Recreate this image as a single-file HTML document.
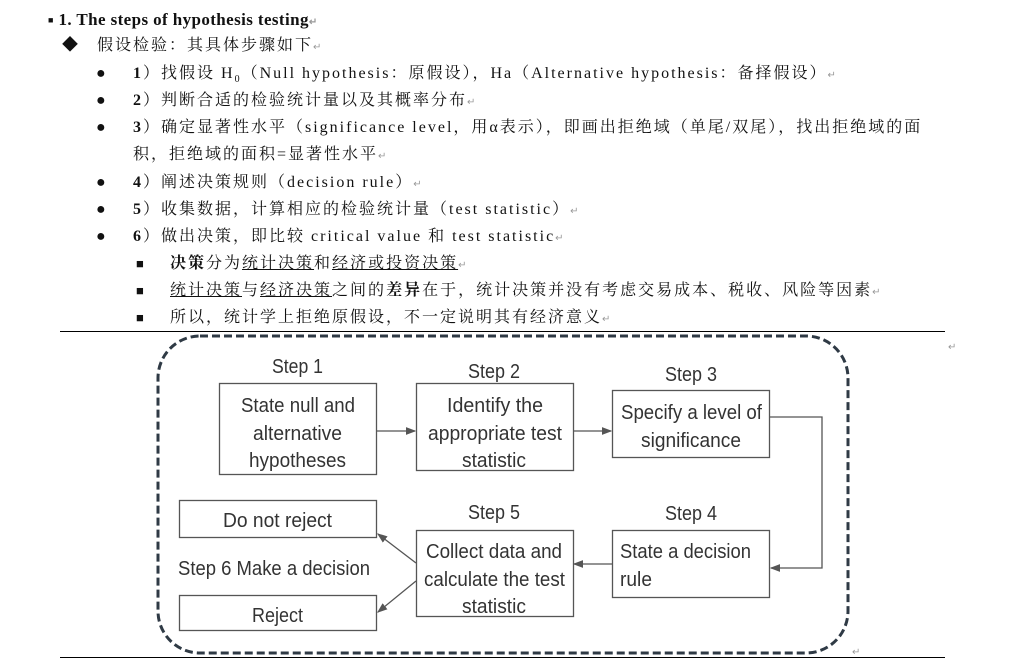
<!DOCTYPE html>
<html><head><meta charset="utf-8"><style>
body{margin:0;width:1027px;height:663px;background:#fff;position:relative;overflow:hidden;font-family:"Liberation Serif","Noto Serif CJK SC",serif;color:#111}
.l{position:absolute;font-size:16px;white-space:nowrap;line-height:18px;letter-spacing:2px}
.m{color:#999;font-size:10px}
u{text-decoration:underline}
</style></head><body>
<div class="l" style="left:48px;top:11px;font-weight:bold;font-size:17px;letter-spacing:0.4px"><span style="font-size:9px;vertical-align:2px">■</span> 1. The steps of hypothesis testing<span class="m">↵</span></div>
<div class="l" style="left:62px;top:37px">◆</div>
<div class="l" style="left:97px;top:37px">假设检验：其具体步骤如下<span class="m">↵</span></div>
<div class="l" style="left:96px;top:65px">●</div>
<div class="l" style="left:133px;top:65px"><b>1</b>）找假设 H<sub style="font-size:10px">0</sub>（Null hypothesis：原假设），Ha（Alternative hypothesis：备择假设）<span class="m">↵</span></div>
<div class="l" style="left:96px;top:92px">●</div>
<div class="l" style="left:133px;top:92px"><b>2</b>）判断合适的检验统计量以及其概率分布<span class="m">↵</span></div>
<div class="l" style="left:96px;top:119px">●</div>
<div class="l" style="left:133px;top:119px"><b>3</b>）确定显著性水平（significance level，用α表示），即画出拒绝域（单尾/双尾），找出拒绝域的面</div>
<div class="l" style="left:133px;top:146px">积，拒绝域的面积=显著性水平<span class="m">↵</span></div>
<div class="l" style="left:96px;top:174px">●</div>
<div class="l" style="left:133px;top:174px"><b>4</b>）阐述决策规则（decision rule）<span class="m">↵</span></div>
<div class="l" style="left:96px;top:201px">●</div>
<div class="l" style="left:133px;top:201px"><b>5</b>）收集数据，计算相应的检验统计量（test statistic）<span class="m">↵</span></div>
<div class="l" style="left:96px;top:228px">●</div>
<div class="l" style="left:133px;top:228px"><b>6</b>）做出决策，即比较 critical value 和 test statistic<span class="m">↵</span></div>
<div class="l" style="left:136px;top:255px;font-size:13px">■</div>
<div class="l" style="left:170px;top:255px"><b>决策</b>分为<u>统计决策</u>和<u>经济或投资决策</u><span class="m">↵</span></div>
<div class="l" style="left:136px;top:282px;font-size:13px">■</div>
<div class="l" style="left:170px;top:282px"><u>统计决策</u>与<u>经济决策</u>之间的<b>差异</b>在于，统计决策并没有考虑交易成本、税收、风险等因素<span class="m">↵</span></div>
<div class="l" style="left:136px;top:309px;font-size:13px">■</div>
<div class="l" style="left:170px;top:309px">所以，统计学上拒绝原假设，不一定说明其有经济意义<span class="m">↵</span></div>
<svg width="1027" height="663" style="position:absolute;left:0;top:0" font-family="'Liberation Sans',sans-serif" font-size="20" fill="#333">
<defs><marker id="a" markerWidth="8" markerHeight="6" refX="7" refY="3" orient="auto"><path d="M0,0L8,3L0,6z" fill="#555"/></marker></defs>
<line x1="60" y1="331.5" x2="945" y2="331.5" stroke="#000" stroke-width="1"/>
<line x1="60" y1="657.5" x2="945" y2="657.5" stroke="#000" stroke-width="1"/>
<rect x="158" y="336" width="690" height="317" rx="42" fill="none" stroke="#2f3a45" stroke-width="3" stroke-dasharray="8,4"/>
<g fill="none" stroke="#555" stroke-width="1.3">
<rect x="219.5" y="383.5" width="157" height="91"/>
<rect x="416.5" y="383.5" width="157" height="87"/>
<rect x="612.5" y="390.5" width="157" height="67"/>
<rect x="612.5" y="530.5" width="157" height="67"/>
<rect x="416.5" y="530.5" width="157" height="86"/>
<rect x="179.5" y="500.5" width="197" height="37"/>
<rect x="179.5" y="595.5" width="197" height="35"/>
<line x1="377" y1="431" x2="415" y2="431" marker-end="url(#a)"/>
<line x1="573" y1="431" x2="611" y2="431" marker-end="url(#a)"/>
<polyline points="770,417 822,417 822,568 771,568" marker-end="url(#a)"/>
<line x1="612" y1="564" x2="574" y2="564" marker-end="url(#a)"/>
<line x1="416" y1="563" x2="378" y2="534" marker-end="url(#a)"/>
<line x1="416" y1="581" x2="378" y2="612" marker-end="url(#a)"/>
</g>
<g>
<text x="272" y="373" textLength="51" lengthAdjust="spacingAndGlyphs">Step 1</text>
<text x="241" y="412" textLength="114" lengthAdjust="spacingAndGlyphs">State null and</text>
<text x="253" y="440" textLength="89" lengthAdjust="spacingAndGlyphs">alternative</text>
<text x="249" y="467" textLength="97" lengthAdjust="spacingAndGlyphs">hypotheses</text>
<text x="468" y="378" textLength="52" lengthAdjust="spacingAndGlyphs">Step 2</text>
<text x="447" y="412" textLength="96" lengthAdjust="spacingAndGlyphs">Identify the</text>
<text x="428" y="440" textLength="134" lengthAdjust="spacingAndGlyphs">appropriate test</text>
<text x="462" y="467" textLength="64" lengthAdjust="spacingAndGlyphs">statistic</text>
<text x="665" y="381" textLength="52" lengthAdjust="spacingAndGlyphs">Step 3</text>
<text x="621" y="419" textLength="141" lengthAdjust="spacingAndGlyphs">Specify a level of</text>
<text x="641" y="447" textLength="100" lengthAdjust="spacingAndGlyphs">significance</text>
<text x="665" y="520" textLength="52" lengthAdjust="spacingAndGlyphs">Step 4</text>
<text x="620" y="558" textLength="131" lengthAdjust="spacingAndGlyphs">State a decision</text>
<text x="620" y="586" textLength="32" lengthAdjust="spacingAndGlyphs">rule</text>
<text x="468" y="519" textLength="52" lengthAdjust="spacingAndGlyphs">Step 5</text>
<text x="426" y="558" textLength="136" lengthAdjust="spacingAndGlyphs">Collect data and</text>
<text x="424" y="586" textLength="141" lengthAdjust="spacingAndGlyphs">calculate the test</text>
<text x="462" y="613" textLength="64" lengthAdjust="spacingAndGlyphs">statistic</text>
<text x="223" y="527" textLength="109" lengthAdjust="spacingAndGlyphs">Do not reject</text>
<text x="178" y="575" textLength="192" lengthAdjust="spacingAndGlyphs">Step 6 Make a decision</text>
<text x="252" y="622" textLength="51" lengthAdjust="spacingAndGlyphs">Reject</text>
</g>
<text x="948" y="350" font-size="10" fill="#999">↵</text>
<text x="852" y="655" font-size="10" fill="#999">↵</text>
</svg>
</body></html>
